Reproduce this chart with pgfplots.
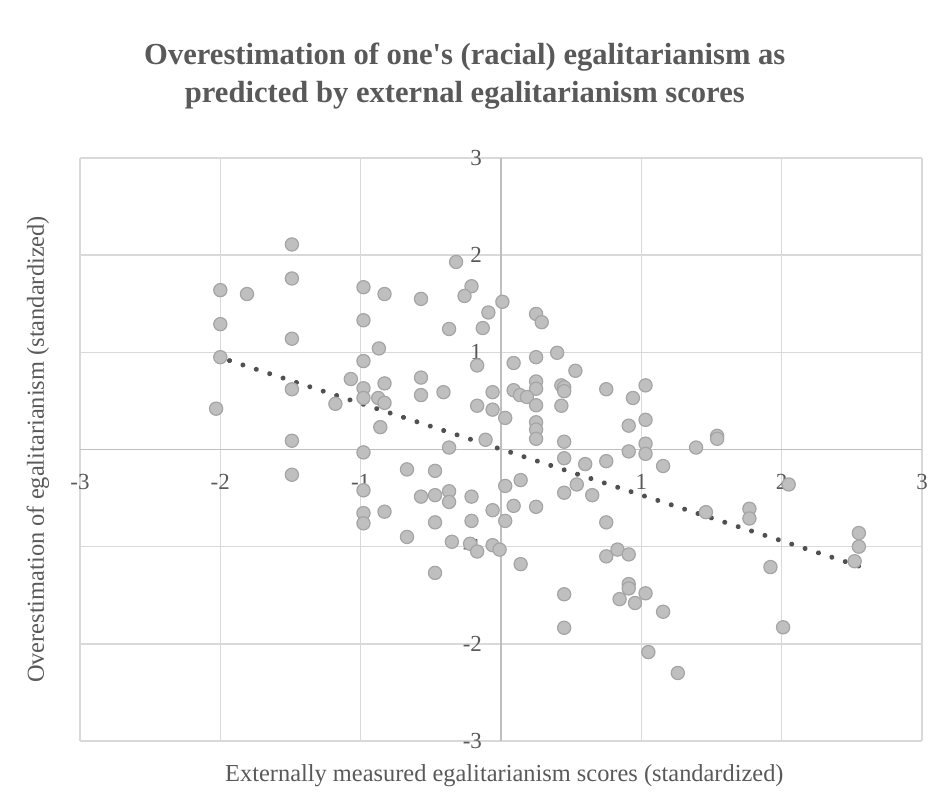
\documentclass[border=0pt]{standalone}
\usepackage{pgfplots}
\pgfplotsset{compat=1.18}
\usepackage{pgfplotstable}
\usepackage{fontspec}
\setmainfont{Liberation Serif}
\definecolor{gridc}{HTML}{D9D9D9}
\definecolor{axisc}{HTML}{BFBFBF}
\definecolor{tickc}{HTML}{595959}
\definecolor{mfill}{HTML}{BFBFBF}
\definecolor{medge}{HTML}{A5A5A5}
\definecolor{trend}{HTML}{505050}
\pgfplotstableread{
x y
-1.49 2.11
-1.49 1.76
-2.00 1.64
-1.81 1.60
-2.00 1.29
-1.49 1.14
-2.00 0.95
-1.49 0.62
-2.03 0.42
-1.49 0.09
-1.49 -0.26
-0.98 1.67
-0.83 1.60
-0.57 1.55
-0.32 1.93
-0.21 1.68
-0.26 1.58
0.01 1.52
-0.09 1.41
-0.13 1.25
-0.37 1.24
-0.98 1.33
-0.87 1.04
-0.98 0.91
-0.17 0.865
-1.07 0.725
-0.98 0.63
-0.83 0.68
-0.57 0.74
-0.98 0.53
-0.875 0.53
-0.83 0.48
-1.18 0.47
-0.57 0.56
-0.41 0.59
-0.06 0.59
-0.17 0.45
-0.06 0.41
0.03 0.325
-0.86 0.23
-0.11 0.10
-0.37 0.02
-0.98 -0.03
0.25 1.395
0.29 1.31
0.40 0.995
0.25 0.95
0.09 0.89
0.53 0.81
0.25 0.70
0.25 0.625
0.43 0.66
0.45 0.64
0.45 0.60
0.09 0.61
0.135 0.56
0.185 0.54
0.75 0.62
1.03 0.66
0.94 0.53
0.25 0.455
0.43 0.45
0.25 0.28
0.25 0.205
0.25 0.11
0.45 0.08
0.91 0.245
1.03 0.305
1.03 0.06
0.91 -0.02
1.39 0.02
1.54 0.14
1.54 0.11
-0.67 -0.205
-0.47 -0.22
-0.98 -0.42
-0.57 -0.485
-0.47 -0.47
-0.37 -0.43
-0.37 -0.54
-0.21 -0.485
0.03 -0.375
-0.06 -0.625
-0.98 -0.655
-0.98 -0.76
-0.83 -0.64
-0.47 -0.75
-0.21 -0.735
0.03 -0.735
-0.67 -0.90
-0.35 -0.95
-0.22 -0.97
-0.17 -1.05
-0.06 -0.985
-0.01 -1.03
-0.47 -1.27
0.45 -0.09
0.60 -0.15
0.75 -0.12
1.03 -0.045
1.155 -0.17
0.14 -0.315
0.54 -0.36
0.45 -0.445
0.65 -0.47
0.09 -0.58
0.25 -0.59
0.75 -0.75
0.14 -1.18
0.75 -1.10
0.83 -1.03
0.91 -1.08
0.45 -1.49
0.91 -1.385
0.91 -1.43
0.845 -1.54
0.955 -1.58
1.03 -1.48
1.155 -1.67
0.45 -1.835
1.05 -2.085
1.26 -2.30
1.46 -0.645
1.77 -0.61
1.77 -0.71
2.05 -0.36
1.92 -1.21
2.01 -1.83
2.55 -0.86
2.55 -1.00
2.52 -1.15
}\pts
\begin{document}
\begin{tikzpicture}
\begin{axis}[
  scale only axis, width=421pt, height=291.5pt,
  xmin=-3, xmax=3, ymin=-3, ymax=3,
  axis lines=middle,
  axis line style={-, color=axisc, line width=0.75pt},
  grid=major,
  major grid style={color=gridc, line width=0.75pt},
  xtick={-3,-2,-1,0,1,2,3}, ytick={-3,-2,-1,0,1,2,3},
  major tick length=0pt,
  /pgf/number format/assume math mode=true,
  ticklabel style={font=\fontsize{11.5}{13}\selectfont, text=tickc},
  xticklabel style={yshift=-9pt},
  yticklabel style={xshift=-6pt},
  clip=false,
]
\addplot[only marks, mark=*, mark size=3.3pt,
  mark options={fill=mfill, draw=medge, line width=0.6pt}] table[x=x,y=y] {\pts};
\addplot[trend, line width=2.5pt, line cap=round, dash pattern=on 0.01pt off 7.03pt]
  coordinates {(-2.03,0.96) (2.555,-1.202)};
\node[font=\fontsize{15.3}{19}\selectfont\bfseries, align=center, text=tickc]
  at (rel axis cs:0.457,1.1407)
  {Overestimation of one\textquotesingle s (racial) egalitarianism as\\predicted by external egalitarianism scores};
\node[font=\fontsize{12.2}{14}\selectfont, text=tickc] at (rel axis cs:0.504,-0.060)
  {Externally measured egalitarianism scores (standardized)};
\node[font=\fontsize{12.2}{14}\selectfont, text=tickc, rotate=90] at (rel axis cs:-0.0499,0.5)
  {Overestimation of egalitarianism (standardized)};
\coordinate (bbSW) at (rel axis cs:-0.0950,-0.0978);
\coordinate (bbNE) at (rel axis cs:1.0083,1.2710);
\end{axis}
\pgfresetboundingbox
\path[use as bounding box] (bbSW) rectangle (bbNE);
\end{tikzpicture}
\end{document}
